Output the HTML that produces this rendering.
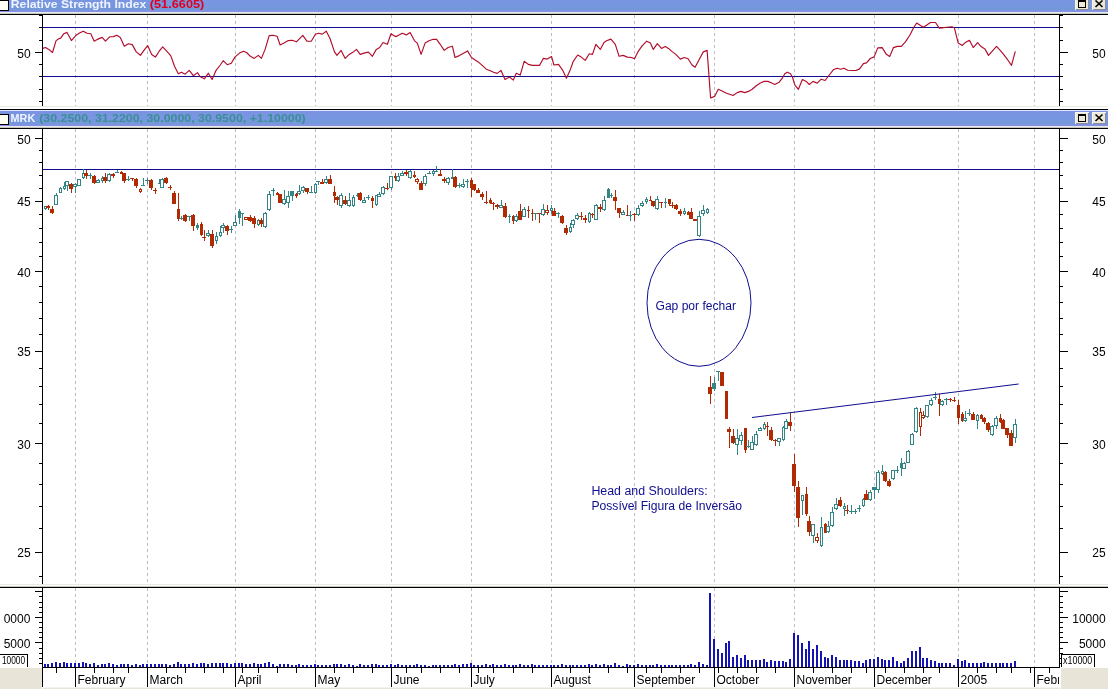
<!DOCTYPE html>
<html><head><meta charset="utf-8"><title>MRK chart</title>
<style>html,body{margin:0;padding:0;background:#fff;overflow:hidden}svg{display:block}</style></head>
<body>
<svg width="1108" height="689" viewBox="0 0 1108 689" font-family="'Liberation Sans', sans-serif">
<defs><filter id="idf" x="-5%" y="-20%" width="110%" height="140%" color-interpolation-filters="sRGB"><feOffset dx="0" dy="0"/></filter><linearGradient id="hg" x1="0" y1="0" x2="0" y2="1"><stop offset="0" stop-color="#7b93e1"/><stop offset="0.45" stop-color="#7896e2"/><stop offset="0.8" stop-color="#7299da"/><stop offset="1" stop-color="#8a90e2"/></linearGradient></defs>
<rect x="0" y="0" width="1108" height="689" fill="#ffffff" />
<g shape-rendering="crispEdges">
<rect x="0" y="-8" width="1108" height="1" fill="#ece8e4" />
<rect x="0" y="-7" width="1108" height="2" fill="#ffffff" />
<rect x="0" y="-5" width="1108" height="1" fill="#000008" />
<rect x="0" y="-4" width="1108" height="1" fill="#dde6fb" />
<rect x="0" y="-3" width="1108" height="15" fill="url(#hg)" />
<rect x="0" y="12" width="1108" height="1" fill="#e6e9f3" />
<rect x="0" y="13" width="1108" height="1" fill="#c9c9ba" />
<rect x="0" y="14" width="1108" height="1" fill="#000" />
<rect x="0" y="0" width="9" height="11" fill="#000" />
<rect x="0" y="1" width="8" height="9" fill="#fffef4" />
<rect x="1075" y="-2" width="14" height="12" fill="#f8f6ec" />
<rect x="1076" y="-1" width="13" height="11" fill="#8c8a9c" />
<rect x="1076" y="-1" width="12" height="10" fill="#ece9d8" />
<rect x="1092" y="-2" width="14" height="12" fill="#f8f6ec" />
<rect x="1093" y="-1" width="13" height="11" fill="#8c8a9c" />
<rect x="1093" y="-1" width="12" height="10" fill="#ece9d8" />
<rect x="1078" y="0" width="8" height="8" fill="#000" />
<rect x="1079" y="2" width="6" height="5" fill="#ece9d8" />
<rect x="0" y="106" width="1108" height="1" fill="#ece8e4" />
<rect x="0" y="107" width="1108" height="2" fill="#ffffff" />
<rect x="0" y="109" width="1108" height="1" fill="#000008" />
<rect x="0" y="110" width="1108" height="1" fill="#dde6fb" />
<rect x="0" y="111" width="1108" height="15" fill="url(#hg)" />
<rect x="0" y="126" width="1108" height="1" fill="#e6e9f3" />
<rect x="0" y="127" width="1108" height="1" fill="#c9c9ba" />
<rect x="0" y="128" width="1108" height="1" fill="#000" />
<rect x="0" y="114" width="9" height="11" fill="#000" />
<rect x="0" y="115" width="8" height="9" fill="#fffef4" />
<rect x="1075" y="112" width="14" height="12" fill="#f8f6ec" />
<rect x="1076" y="113" width="13" height="11" fill="#8c8a9c" />
<rect x="1076" y="113" width="12" height="10" fill="#ece9d8" />
<rect x="1092" y="112" width="14" height="12" fill="#f8f6ec" />
<rect x="1093" y="113" width="13" height="11" fill="#8c8a9c" />
<rect x="1093" y="113" width="12" height="10" fill="#ece9d8" />
<rect x="1078" y="114" width="8" height="8" fill="#000" />
<rect x="1079" y="116" width="6" height="5" fill="#ece9d8" />
<rect x="0" y="584" width="1108" height="1" fill="#e9e9e5" />
<rect x="0" y="585" width="1108" height="1" fill="#fdfdfb" />
<rect x="0" y="586" width="1108" height="1" fill="#c8c8be" />
<rect x="0" y="587" width="1108" height="1" fill="#000" />
<rect x="0" y="668" width="42" height="21" fill="#e8e4d8" />
<rect x="1061" y="668" width="47" height="21" fill="#e8e4d8" />
<rect x="43" y="687" width="1017" height="1" fill="#f4f3ee" />
<rect x="43" y="688" width="1017" height="1" fill="#e6e5dc" />
<line x1="75.5" y1="15" x2="75.5" y2="106" stroke="#bcbcc6" stroke-width="1" stroke-dasharray="3 3"/>
<line x1="75.5" y1="129" x2="75.5" y2="584" stroke="#bcbcc6" stroke-width="1" stroke-dasharray="3 3"/>
<line x1="75.5" y1="588" x2="75.5" y2="667" stroke="#bcbcc6" stroke-width="1" stroke-dasharray="3 3"/>
<line x1="147.5" y1="15" x2="147.5" y2="106" stroke="#bcbcc6" stroke-width="1" stroke-dasharray="3 3"/>
<line x1="147.5" y1="129" x2="147.5" y2="584" stroke="#bcbcc6" stroke-width="1" stroke-dasharray="3 3"/>
<line x1="147.5" y1="588" x2="147.5" y2="667" stroke="#bcbcc6" stroke-width="1" stroke-dasharray="3 3"/>
<line x1="235.5" y1="15" x2="235.5" y2="106" stroke="#bcbcc6" stroke-width="1" stroke-dasharray="3 3"/>
<line x1="235.5" y1="129" x2="235.5" y2="584" stroke="#bcbcc6" stroke-width="1" stroke-dasharray="3 3"/>
<line x1="235.5" y1="588" x2="235.5" y2="667" stroke="#bcbcc6" stroke-width="1" stroke-dasharray="3 3"/>
<line x1="315.5" y1="15" x2="315.5" y2="106" stroke="#bcbcc6" stroke-width="1" stroke-dasharray="3 3"/>
<line x1="315.5" y1="129" x2="315.5" y2="584" stroke="#bcbcc6" stroke-width="1" stroke-dasharray="3 3"/>
<line x1="315.5" y1="588" x2="315.5" y2="667" stroke="#bcbcc6" stroke-width="1" stroke-dasharray="3 3"/>
<line x1="391.5" y1="15" x2="391.5" y2="106" stroke="#bcbcc6" stroke-width="1" stroke-dasharray="3 3"/>
<line x1="391.5" y1="129" x2="391.5" y2="584" stroke="#bcbcc6" stroke-width="1" stroke-dasharray="3 3"/>
<line x1="391.5" y1="588" x2="391.5" y2="667" stroke="#bcbcc6" stroke-width="1" stroke-dasharray="3 3"/>
<line x1="471.5" y1="15" x2="471.5" y2="106" stroke="#bcbcc6" stroke-width="1" stroke-dasharray="3 3"/>
<line x1="471.5" y1="129" x2="471.5" y2="584" stroke="#bcbcc6" stroke-width="1" stroke-dasharray="3 3"/>
<line x1="471.5" y1="588" x2="471.5" y2="667" stroke="#bcbcc6" stroke-width="1" stroke-dasharray="3 3"/>
<line x1="551.5" y1="15" x2="551.5" y2="106" stroke="#bcbcc6" stroke-width="1" stroke-dasharray="3 3"/>
<line x1="551.5" y1="129" x2="551.5" y2="584" stroke="#bcbcc6" stroke-width="1" stroke-dasharray="3 3"/>
<line x1="551.5" y1="588" x2="551.5" y2="667" stroke="#bcbcc6" stroke-width="1" stroke-dasharray="3 3"/>
<line x1="634.5" y1="15" x2="634.5" y2="106" stroke="#bcbcc6" stroke-width="1" stroke-dasharray="3 3"/>
<line x1="634.5" y1="129" x2="634.5" y2="584" stroke="#bcbcc6" stroke-width="1" stroke-dasharray="3 3"/>
<line x1="634.5" y1="588" x2="634.5" y2="667" stroke="#bcbcc6" stroke-width="1" stroke-dasharray="3 3"/>
<line x1="714.5" y1="15" x2="714.5" y2="106" stroke="#bcbcc6" stroke-width="1" stroke-dasharray="3 3"/>
<line x1="714.5" y1="129" x2="714.5" y2="584" stroke="#bcbcc6" stroke-width="1" stroke-dasharray="3 3"/>
<line x1="714.5" y1="588" x2="714.5" y2="667" stroke="#bcbcc6" stroke-width="1" stroke-dasharray="3 3"/>
<line x1="794.5" y1="15" x2="794.5" y2="106" stroke="#bcbcc6" stroke-width="1" stroke-dasharray="3 3"/>
<line x1="794.5" y1="129" x2="794.5" y2="584" stroke="#bcbcc6" stroke-width="1" stroke-dasharray="3 3"/>
<line x1="794.5" y1="588" x2="794.5" y2="667" stroke="#bcbcc6" stroke-width="1" stroke-dasharray="3 3"/>
<line x1="874.5" y1="15" x2="874.5" y2="106" stroke="#bcbcc6" stroke-width="1" stroke-dasharray="3 3"/>
<line x1="874.5" y1="129" x2="874.5" y2="584" stroke="#bcbcc6" stroke-width="1" stroke-dasharray="3 3"/>
<line x1="874.5" y1="588" x2="874.5" y2="667" stroke="#bcbcc6" stroke-width="1" stroke-dasharray="3 3"/>
<line x1="958.5" y1="15" x2="958.5" y2="106" stroke="#bcbcc6" stroke-width="1" stroke-dasharray="3 3"/>
<line x1="958.5" y1="129" x2="958.5" y2="584" stroke="#bcbcc6" stroke-width="1" stroke-dasharray="3 3"/>
<line x1="958.5" y1="588" x2="958.5" y2="667" stroke="#bcbcc6" stroke-width="1" stroke-dasharray="3 3"/>
<line x1="1034.5" y1="15" x2="1034.5" y2="106" stroke="#bcbcc6" stroke-width="1" stroke-dasharray="3 3"/>
<line x1="1034.5" y1="129" x2="1034.5" y2="584" stroke="#bcbcc6" stroke-width="1" stroke-dasharray="3 3"/>
<line x1="1034.5" y1="588" x2="1034.5" y2="667" stroke="#bcbcc6" stroke-width="1" stroke-dasharray="3 3"/>
<rect x="42" y="15" width="1" height="91" fill="#000" />
<rect x="1059" y="15" width="1" height="91" fill="#000" />
<rect x="42" y="129" width="1" height="455" fill="#000" />
<rect x="1059" y="129" width="1" height="455" fill="#000" />
<rect x="42" y="588" width="1" height="80" fill="#000" />
<rect x="1059" y="588" width="1" height="80" fill="#000" />
<rect x="39" y="27" width="3" height="1" fill="#000" />
<rect x="1060" y="27" width="3" height="1" fill="#000" />
<rect x="39" y="40" width="3" height="1" fill="#000" />
<rect x="1060" y="40" width="3" height="1" fill="#000" />
<rect x="35" y="52" width="7" height="1" fill="#000" />
<rect x="1060" y="52" width="8" height="1" fill="#000" />
<rect x="39" y="64" width="3" height="1" fill="#000" />
<rect x="1060" y="64" width="3" height="1" fill="#000" />
<rect x="39" y="76" width="3" height="1" fill="#000" />
<rect x="1060" y="76" width="3" height="1" fill="#000" />
<rect x="39" y="89" width="3" height="1" fill="#000" />
<rect x="1060" y="89" width="3" height="1" fill="#000" />
<rect x="39" y="101" width="3" height="1" fill="#000" />
<rect x="1060" y="101" width="3" height="1" fill="#000" />
<rect x="39" y="15" width="3" height="1" fill="#000" />
<rect x="1060" y="15" width="3" height="1" fill="#000" />
<rect x="43" y="27" width="1016" height="1" fill="#0e0e8e" />
<rect x="43" y="76" width="1016" height="1" fill="#0e0e8e" />
<rect x="39" y="576" width="3" height="1" fill="#000" />
<rect x="1060" y="576" width="3" height="1" fill="#000" />
<rect x="35" y="552" width="7" height="1" fill="#000" />
<rect x="1060" y="552" width="8" height="1" fill="#000" />
<rect x="39" y="528" width="3" height="1" fill="#000" />
<rect x="1060" y="528" width="3" height="1" fill="#000" />
<rect x="39" y="506" width="3" height="1" fill="#000" />
<rect x="1060" y="506" width="3" height="1" fill="#000" />
<rect x="39" y="484" width="3" height="1" fill="#000" />
<rect x="1060" y="484" width="3" height="1" fill="#000" />
<rect x="39" y="463" width="3" height="1" fill="#000" />
<rect x="1060" y="463" width="3" height="1" fill="#000" />
<rect x="35" y="443" width="7" height="1" fill="#000" />
<rect x="1060" y="443" width="8" height="1" fill="#000" />
<rect x="39" y="423" width="3" height="1" fill="#000" />
<rect x="1060" y="423" width="3" height="1" fill="#000" />
<rect x="39" y="404" width="3" height="1" fill="#000" />
<rect x="1060" y="404" width="3" height="1" fill="#000" />
<rect x="39" y="386" width="3" height="1" fill="#000" />
<rect x="1060" y="386" width="3" height="1" fill="#000" />
<rect x="39" y="368" width="3" height="1" fill="#000" />
<rect x="1060" y="368" width="3" height="1" fill="#000" />
<rect x="35" y="351" width="7" height="1" fill="#000" />
<rect x="1060" y="351" width="8" height="1" fill="#000" />
<rect x="39" y="334" width="3" height="1" fill="#000" />
<rect x="1060" y="334" width="3" height="1" fill="#000" />
<rect x="39" y="318" width="3" height="1" fill="#000" />
<rect x="1060" y="318" width="3" height="1" fill="#000" />
<rect x="39" y="302" width="3" height="1" fill="#000" />
<rect x="1060" y="302" width="3" height="1" fill="#000" />
<rect x="39" y="286" width="3" height="1" fill="#000" />
<rect x="1060" y="286" width="3" height="1" fill="#000" />
<rect x="35" y="271" width="7" height="1" fill="#000" />
<rect x="1060" y="271" width="8" height="1" fill="#000" />
<rect x="39" y="256" width="3" height="1" fill="#000" />
<rect x="1060" y="256" width="3" height="1" fill="#000" />
<rect x="39" y="242" width="3" height="1" fill="#000" />
<rect x="1060" y="242" width="3" height="1" fill="#000" />
<rect x="39" y="228" width="3" height="1" fill="#000" />
<rect x="1060" y="228" width="3" height="1" fill="#000" />
<rect x="39" y="214" width="3" height="1" fill="#000" />
<rect x="1060" y="214" width="3" height="1" fill="#000" />
<rect x="35" y="201" width="7" height="1" fill="#000" />
<rect x="1060" y="201" width="8" height="1" fill="#000" />
<rect x="39" y="188" width="3" height="1" fill="#000" />
<rect x="1060" y="188" width="3" height="1" fill="#000" />
<rect x="39" y="175" width="3" height="1" fill="#000" />
<rect x="1060" y="175" width="3" height="1" fill="#000" />
<rect x="39" y="162" width="3" height="1" fill="#000" />
<rect x="1060" y="162" width="3" height="1" fill="#000" />
<rect x="39" y="150" width="3" height="1" fill="#000" />
<rect x="1060" y="150" width="3" height="1" fill="#000" />
<rect x="35" y="138" width="7" height="1" fill="#000" />
<rect x="1060" y="138" width="8" height="1" fill="#000" />
<rect x="43" y="169" width="1016" height="1" fill="#0e0e8e" />
<rect x="39" y="663" width="3" height="1" fill="#000" />
<rect x="1060" y="663" width="3" height="1" fill="#000" />
<rect x="39" y="658" width="3" height="1" fill="#000" />
<rect x="1060" y="658" width="3" height="1" fill="#000" />
<rect x="39" y="653" width="3" height="1" fill="#000" />
<rect x="1060" y="653" width="3" height="1" fill="#000" />
<rect x="39" y="648" width="3" height="1" fill="#000" />
<rect x="1060" y="648" width="3" height="1" fill="#000" />
<rect x="35" y="642" width="7" height="1" fill="#000" />
<rect x="1060" y="642" width="8" height="1" fill="#000" />
<rect x="39" y="637" width="3" height="1" fill="#000" />
<rect x="1060" y="637" width="3" height="1" fill="#000" />
<rect x="39" y="632" width="3" height="1" fill="#000" />
<rect x="1060" y="632" width="3" height="1" fill="#000" />
<rect x="39" y="627" width="3" height="1" fill="#000" />
<rect x="1060" y="627" width="3" height="1" fill="#000" />
<rect x="39" y="622" width="3" height="1" fill="#000" />
<rect x="1060" y="622" width="3" height="1" fill="#000" />
<rect x="35" y="617" width="7" height="1" fill="#000" />
<rect x="1060" y="617" width="8" height="1" fill="#000" />
<rect x="39" y="612" width="3" height="1" fill="#000" />
<rect x="1060" y="612" width="3" height="1" fill="#000" />
<rect x="39" y="607" width="3" height="1" fill="#000" />
<rect x="1060" y="607" width="3" height="1" fill="#000" />
<rect x="39" y="602" width="3" height="1" fill="#000" />
<rect x="1060" y="602" width="3" height="1" fill="#000" />
<rect x="39" y="596" width="3" height="1" fill="#000" />
<rect x="1060" y="596" width="3" height="1" fill="#000" />
<rect x="35" y="591" width="7" height="1" fill="#000" />
<rect x="1060" y="591" width="8" height="1" fill="#000" />
<rect x="44" y="664" width="2" height="3" fill="#1414b4" />
<rect x="47" y="664" width="2" height="3" fill="#1414b4" />
<rect x="51" y="663" width="2" height="4" fill="#1414b4" />
<rect x="55" y="662" width="2" height="5" fill="#1414b4" />
<rect x="59" y="663" width="2" height="4" fill="#1414b4" />
<rect x="63" y="662" width="2" height="5" fill="#1414b4" />
<rect x="66" y="663" width="2" height="4" fill="#1414b4" />
<rect x="70" y="663" width="2" height="4" fill="#1414b4" />
<rect x="74" y="663" width="2" height="4" fill="#1414b4" />
<rect x="78" y="663" width="2" height="4" fill="#1414b4" />
<rect x="82" y="662" width="2" height="5" fill="#1414b4" />
<rect x="85" y="663" width="2" height="4" fill="#1414b4" />
<rect x="89" y="664" width="2" height="3" fill="#1414b4" />
<rect x="93" y="663" width="2" height="4" fill="#1414b4" />
<rect x="97" y="665" width="2" height="2" fill="#1414b4" />
<rect x="101" y="664" width="2" height="3" fill="#1414b4" />
<rect x="104" y="664" width="2" height="3" fill="#1414b4" />
<rect x="108" y="663" width="2" height="4" fill="#1414b4" />
<rect x="112" y="664" width="2" height="3" fill="#1414b4" />
<rect x="116" y="665" width="2" height="2" fill="#1414b4" />
<rect x="120" y="664" width="2" height="3" fill="#1414b4" />
<rect x="123" y="664" width="2" height="3" fill="#1414b4" />
<rect x="127" y="664" width="2" height="3" fill="#1414b4" />
<rect x="131" y="665" width="2" height="2" fill="#1414b4" />
<rect x="135" y="664" width="2" height="3" fill="#1414b4" />
<rect x="139" y="665" width="2" height="2" fill="#1414b4" />
<rect x="142" y="664" width="2" height="3" fill="#1414b4" />
<rect x="146" y="664" width="2" height="3" fill="#1414b4" />
<rect x="150" y="664" width="2" height="3" fill="#1414b4" />
<rect x="154" y="664" width="2" height="3" fill="#1414b4" />
<rect x="158" y="664" width="2" height="3" fill="#1414b4" />
<rect x="161" y="664" width="2" height="3" fill="#1414b4" />
<rect x="165" y="664" width="2" height="3" fill="#1414b4" />
<rect x="169" y="665" width="2" height="2" fill="#1414b4" />
<rect x="173" y="664" width="2" height="3" fill="#1414b4" />
<rect x="177" y="662" width="2" height="5" fill="#1414b4" />
<rect x="180" y="664" width="2" height="3" fill="#1414b4" />
<rect x="184" y="664" width="2" height="3" fill="#1414b4" />
<rect x="188" y="664" width="2" height="3" fill="#1414b4" />
<rect x="192" y="663" width="2" height="4" fill="#1414b4" />
<rect x="196" y="664" width="2" height="3" fill="#1414b4" />
<rect x="200" y="663" width="2" height="4" fill="#1414b4" />
<rect x="203" y="663" width="2" height="4" fill="#1414b4" />
<rect x="207" y="664" width="2" height="3" fill="#1414b4" />
<rect x="211" y="663" width="2" height="4" fill="#1414b4" />
<rect x="215" y="663" width="2" height="4" fill="#1414b4" />
<rect x="219" y="663" width="2" height="4" fill="#1414b4" />
<rect x="222" y="663" width="2" height="4" fill="#1414b4" />
<rect x="226" y="663" width="2" height="4" fill="#1414b4" />
<rect x="230" y="664" width="2" height="3" fill="#1414b4" />
<rect x="234" y="663" width="2" height="4" fill="#1414b4" />
<rect x="238" y="663" width="2" height="4" fill="#1414b4" />
<rect x="241" y="663" width="2" height="4" fill="#1414b4" />
<rect x="245" y="664" width="2" height="3" fill="#1414b4" />
<rect x="249" y="664" width="2" height="3" fill="#1414b4" />
<rect x="253" y="663" width="2" height="4" fill="#1414b4" />
<rect x="257" y="664" width="2" height="3" fill="#1414b4" />
<rect x="260" y="664" width="2" height="3" fill="#1414b4" />
<rect x="264" y="663" width="2" height="4" fill="#1414b4" />
<rect x="268" y="662" width="2" height="5" fill="#1414b4" />
<rect x="272" y="664" width="2" height="3" fill="#1414b4" />
<rect x="276" y="666" width="2" height="1" fill="#1414b4" />
<rect x="279" y="664" width="2" height="3" fill="#1414b4" />
<rect x="283" y="664" width="2" height="3" fill="#1414b4" />
<rect x="287" y="664" width="2" height="3" fill="#1414b4" />
<rect x="291" y="665" width="2" height="2" fill="#1414b4" />
<rect x="295" y="665" width="2" height="2" fill="#1414b4" />
<rect x="298" y="664" width="2" height="3" fill="#1414b4" />
<rect x="302" y="665" width="2" height="2" fill="#1414b4" />
<rect x="306" y="665" width="2" height="2" fill="#1414b4" />
<rect x="310" y="665" width="2" height="2" fill="#1414b4" />
<rect x="314" y="664" width="2" height="3" fill="#1414b4" />
<rect x="317" y="665" width="2" height="2" fill="#1414b4" />
<rect x="321" y="665" width="2" height="2" fill="#1414b4" />
<rect x="325" y="665" width="2" height="2" fill="#1414b4" />
<rect x="329" y="665" width="2" height="2" fill="#1414b4" />
<rect x="333" y="664" width="2" height="3" fill="#1414b4" />
<rect x="336" y="664" width="2" height="3" fill="#1414b4" />
<rect x="340" y="664" width="2" height="3" fill="#1414b4" />
<rect x="344" y="665" width="2" height="2" fill="#1414b4" />
<rect x="348" y="664" width="2" height="3" fill="#1414b4" />
<rect x="352" y="665" width="2" height="2" fill="#1414b4" />
<rect x="356" y="666" width="2" height="1" fill="#1414b4" />
<rect x="359" y="664" width="2" height="3" fill="#1414b4" />
<rect x="363" y="665" width="2" height="2" fill="#1414b4" />
<rect x="367" y="665" width="2" height="2" fill="#1414b4" />
<rect x="371" y="664" width="2" height="3" fill="#1414b4" />
<rect x="375" y="664" width="2" height="3" fill="#1414b4" />
<rect x="378" y="665" width="2" height="2" fill="#1414b4" />
<rect x="382" y="665" width="2" height="2" fill="#1414b4" />
<rect x="386" y="665" width="2" height="2" fill="#1414b4" />
<rect x="390" y="664" width="2" height="3" fill="#1414b4" />
<rect x="394" y="665" width="2" height="2" fill="#1414b4" />
<rect x="397" y="664" width="2" height="3" fill="#1414b4" />
<rect x="401" y="665" width="2" height="2" fill="#1414b4" />
<rect x="405" y="665" width="2" height="2" fill="#1414b4" />
<rect x="409" y="665" width="2" height="2" fill="#1414b4" />
<rect x="413" y="665" width="2" height="2" fill="#1414b4" />
<rect x="416" y="664" width="2" height="3" fill="#1414b4" />
<rect x="420" y="665" width="2" height="2" fill="#1414b4" />
<rect x="424" y="665" width="2" height="2" fill="#1414b4" />
<rect x="428" y="666" width="2" height="1" fill="#1414b4" />
<rect x="432" y="665" width="2" height="2" fill="#1414b4" />
<rect x="435" y="665" width="2" height="2" fill="#1414b4" />
<rect x="439" y="665" width="2" height="2" fill="#1414b4" />
<rect x="443" y="665" width="2" height="2" fill="#1414b4" />
<rect x="447" y="665" width="2" height="2" fill="#1414b4" />
<rect x="451" y="665" width="2" height="2" fill="#1414b4" />
<rect x="454" y="664" width="2" height="3" fill="#1414b4" />
<rect x="458" y="665" width="2" height="2" fill="#1414b4" />
<rect x="462" y="664" width="2" height="3" fill="#1414b4" />
<rect x="466" y="664" width="2" height="3" fill="#1414b4" />
<rect x="470" y="663" width="2" height="4" fill="#1414b4" />
<rect x="473" y="665" width="2" height="2" fill="#1414b4" />
<rect x="477" y="665" width="2" height="2" fill="#1414b4" />
<rect x="481" y="665" width="2" height="2" fill="#1414b4" />
<rect x="485" y="664" width="2" height="3" fill="#1414b4" />
<rect x="489" y="665" width="2" height="2" fill="#1414b4" />
<rect x="492" y="664" width="2" height="3" fill="#1414b4" />
<rect x="496" y="665" width="2" height="2" fill="#1414b4" />
<rect x="500" y="665" width="2" height="2" fill="#1414b4" />
<rect x="504" y="664" width="2" height="3" fill="#1414b4" />
<rect x="508" y="665" width="2" height="2" fill="#1414b4" />
<rect x="512" y="665" width="2" height="2" fill="#1414b4" />
<rect x="515" y="665" width="2" height="2" fill="#1414b4" />
<rect x="519" y="664" width="2" height="3" fill="#1414b4" />
<rect x="523" y="665" width="2" height="2" fill="#1414b4" />
<rect x="527" y="665" width="2" height="2" fill="#1414b4" />
<rect x="531" y="664" width="2" height="3" fill="#1414b4" />
<rect x="534" y="665" width="2" height="2" fill="#1414b4" />
<rect x="538" y="665" width="2" height="2" fill="#1414b4" />
<rect x="542" y="665" width="2" height="2" fill="#1414b4" />
<rect x="546" y="665" width="2" height="2" fill="#1414b4" />
<rect x="550" y="665" width="2" height="2" fill="#1414b4" />
<rect x="553" y="665" width="2" height="2" fill="#1414b4" />
<rect x="557" y="665" width="2" height="2" fill="#1414b4" />
<rect x="561" y="664" width="2" height="3" fill="#1414b4" />
<rect x="565" y="665" width="2" height="2" fill="#1414b4" />
<rect x="569" y="665" width="2" height="2" fill="#1414b4" />
<rect x="572" y="665" width="2" height="2" fill="#1414b4" />
<rect x="576" y="665" width="2" height="2" fill="#1414b4" />
<rect x="580" y="665" width="2" height="2" fill="#1414b4" />
<rect x="584" y="665" width="2" height="2" fill="#1414b4" />
<rect x="588" y="664" width="2" height="3" fill="#1414b4" />
<rect x="591" y="665" width="2" height="2" fill="#1414b4" />
<rect x="595" y="664" width="2" height="3" fill="#1414b4" />
<rect x="599" y="665" width="2" height="2" fill="#1414b4" />
<rect x="603" y="664" width="2" height="3" fill="#1414b4" />
<rect x="607" y="665" width="2" height="2" fill="#1414b4" />
<rect x="610" y="665" width="2" height="2" fill="#1414b4" />
<rect x="614" y="663" width="2" height="4" fill="#1414b4" />
<rect x="618" y="665" width="2" height="2" fill="#1414b4" />
<rect x="622" y="666" width="2" height="1" fill="#1414b4" />
<rect x="626" y="664" width="2" height="3" fill="#1414b4" />
<rect x="629" y="665" width="2" height="2" fill="#1414b4" />
<rect x="633" y="665" width="2" height="2" fill="#1414b4" />
<rect x="637" y="664" width="2" height="3" fill="#1414b4" />
<rect x="641" y="665" width="2" height="2" fill="#1414b4" />
<rect x="645" y="665" width="2" height="2" fill="#1414b4" />
<rect x="649" y="665" width="2" height="2" fill="#1414b4" />
<rect x="652" y="665" width="2" height="2" fill="#1414b4" />
<rect x="656" y="664" width="2" height="3" fill="#1414b4" />
<rect x="660" y="665" width="2" height="2" fill="#1414b4" />
<rect x="664" y="665" width="2" height="2" fill="#1414b4" />
<rect x="668" y="665" width="2" height="2" fill="#1414b4" />
<rect x="671" y="665" width="2" height="2" fill="#1414b4" />
<rect x="675" y="665" width="2" height="2" fill="#1414b4" />
<rect x="679" y="665" width="2" height="2" fill="#1414b4" />
<rect x="683" y="665" width="2" height="2" fill="#1414b4" />
<rect x="687" y="665" width="2" height="2" fill="#1414b4" />
<rect x="690" y="664" width="2" height="3" fill="#1414b4" />
<rect x="694" y="665" width="2" height="2" fill="#1414b4" />
<rect x="698" y="662" width="2" height="5" fill="#1414b4" />
<rect x="702" y="664" width="2" height="3" fill="#1414b4" />
<rect x="706" y="665" width="2" height="2" fill="#1414b4" />
<rect x="709" y="593" width="2" height="74" fill="#1414b4" />
<rect x="713" y="639" width="2" height="28" fill="#1414b4" />
<rect x="717" y="649" width="2" height="18" fill="#1414b4" />
<rect x="721" y="653" width="2" height="14" fill="#1414b4" />
<rect x="725" y="643" width="2" height="24" fill="#1414b4" />
<rect x="728" y="641" width="2" height="26" fill="#1414b4" />
<rect x="732" y="657" width="2" height="10" fill="#1414b4" />
<rect x="736" y="655" width="2" height="12" fill="#1414b4" />
<rect x="740" y="658" width="2" height="9" fill="#1414b4" />
<rect x="744" y="655" width="2" height="12" fill="#1414b4" />
<rect x="747" y="660" width="2" height="7" fill="#1414b4" />
<rect x="751" y="660" width="2" height="7" fill="#1414b4" />
<rect x="755" y="660" width="2" height="7" fill="#1414b4" />
<rect x="759" y="660" width="2" height="7" fill="#1414b4" />
<rect x="763" y="659" width="2" height="8" fill="#1414b4" />
<rect x="766" y="662" width="2" height="5" fill="#1414b4" />
<rect x="770" y="660" width="2" height="7" fill="#1414b4" />
<rect x="774" y="661" width="2" height="6" fill="#1414b4" />
<rect x="778" y="661" width="2" height="6" fill="#1414b4" />
<rect x="782" y="661" width="2" height="6" fill="#1414b4" />
<rect x="785" y="662" width="2" height="5" fill="#1414b4" />
<rect x="789" y="659" width="2" height="8" fill="#1414b4" />
<rect x="793" y="633" width="2" height="34" fill="#1414b4" />
<rect x="797" y="635" width="2" height="32" fill="#1414b4" />
<rect x="801" y="643" width="2" height="24" fill="#1414b4" />
<rect x="805" y="649" width="2" height="18" fill="#1414b4" />
<rect x="808" y="641" width="2" height="26" fill="#1414b4" />
<rect x="812" y="649" width="2" height="18" fill="#1414b4" />
<rect x="816" y="645" width="2" height="22" fill="#1414b4" />
<rect x="820" y="651" width="2" height="16" fill="#1414b4" />
<rect x="824" y="657" width="2" height="10" fill="#1414b4" />
<rect x="827" y="658" width="2" height="9" fill="#1414b4" />
<rect x="831" y="655" width="2" height="12" fill="#1414b4" />
<rect x="835" y="657" width="2" height="10" fill="#1414b4" />
<rect x="839" y="660" width="2" height="7" fill="#1414b4" />
<rect x="843" y="660" width="2" height="7" fill="#1414b4" />
<rect x="846" y="660" width="2" height="7" fill="#1414b4" />
<rect x="850" y="660" width="2" height="7" fill="#1414b4" />
<rect x="854" y="661" width="2" height="6" fill="#1414b4" />
<rect x="858" y="661" width="2" height="6" fill="#1414b4" />
<rect x="862" y="663" width="2" height="4" fill="#1414b4" />
<rect x="865" y="660" width="2" height="7" fill="#1414b4" />
<rect x="869" y="659" width="2" height="8" fill="#1414b4" />
<rect x="873" y="659" width="2" height="8" fill="#1414b4" />
<rect x="877" y="657" width="2" height="10" fill="#1414b4" />
<rect x="881" y="659" width="2" height="8" fill="#1414b4" />
<rect x="884" y="660" width="2" height="7" fill="#1414b4" />
<rect x="888" y="660" width="2" height="7" fill="#1414b4" />
<rect x="892" y="657" width="2" height="10" fill="#1414b4" />
<rect x="896" y="661" width="2" height="6" fill="#1414b4" />
<rect x="900" y="663" width="2" height="4" fill="#1414b4" />
<rect x="903" y="661" width="2" height="6" fill="#1414b4" />
<rect x="907" y="658" width="2" height="9" fill="#1414b4" />
<rect x="911" y="651" width="2" height="16" fill="#1414b4" />
<rect x="915" y="651" width="2" height="16" fill="#1414b4" />
<rect x="919" y="647" width="2" height="20" fill="#1414b4" />
<rect x="922" y="658" width="2" height="9" fill="#1414b4" />
<rect x="926" y="658" width="2" height="9" fill="#1414b4" />
<rect x="930" y="660" width="2" height="7" fill="#1414b4" />
<rect x="934" y="661" width="2" height="6" fill="#1414b4" />
<rect x="938" y="663" width="2" height="4" fill="#1414b4" />
<rect x="941" y="663" width="2" height="4" fill="#1414b4" />
<rect x="945" y="663" width="2" height="4" fill="#1414b4" />
<rect x="949" y="663" width="2" height="4" fill="#1414b4" />
<rect x="953" y="665" width="2" height="2" fill="#1414b4" />
<rect x="957" y="659" width="2" height="8" fill="#1414b4" />
<rect x="961" y="661" width="2" height="6" fill="#1414b4" />
<rect x="964" y="660" width="2" height="7" fill="#1414b4" />
<rect x="968" y="663" width="2" height="4" fill="#1414b4" />
<rect x="972" y="663" width="2" height="4" fill="#1414b4" />
<rect x="976" y="663" width="2" height="4" fill="#1414b4" />
<rect x="980" y="663" width="2" height="4" fill="#1414b4" />
<rect x="983" y="662" width="2" height="5" fill="#1414b4" />
<rect x="987" y="663" width="2" height="4" fill="#1414b4" />
<rect x="991" y="663" width="2" height="4" fill="#1414b4" />
<rect x="995" y="663" width="2" height="4" fill="#1414b4" />
<rect x="999" y="663" width="2" height="4" fill="#1414b4" />
<rect x="1002" y="663" width="2" height="4" fill="#1414b4" />
<rect x="1006" y="663" width="2" height="4" fill="#1414b4" />
<rect x="1010" y="663" width="2" height="4" fill="#1414b4" />
<rect x="1014" y="661" width="2" height="6" fill="#1414b4" />
<rect x="42" y="667" width="1018" height="1" fill="#000" />
<rect x="56" y="668" width="1" height="5" fill="#000" />
<rect x="94" y="668" width="1" height="5" fill="#000" />
<rect x="113" y="668" width="1" height="5" fill="#000" />
<rect x="128" y="668" width="1" height="5" fill="#000" />
<rect x="166" y="668" width="1" height="5" fill="#000" />
<rect x="185" y="668" width="1" height="5" fill="#000" />
<rect x="204" y="668" width="1" height="5" fill="#000" />
<rect x="223" y="668" width="1" height="5" fill="#000" />
<rect x="242" y="668" width="1" height="5" fill="#000" />
<rect x="258" y="668" width="1" height="5" fill="#000" />
<rect x="277" y="668" width="1" height="5" fill="#000" />
<rect x="296" y="668" width="1" height="5" fill="#000" />
<rect x="334" y="668" width="1" height="5" fill="#000" />
<rect x="353" y="668" width="1" height="5" fill="#000" />
<rect x="372" y="668" width="1" height="5" fill="#000" />
<rect x="406" y="668" width="1" height="5" fill="#000" />
<rect x="421" y="668" width="1" height="5" fill="#000" />
<rect x="440" y="668" width="1" height="5" fill="#000" />
<rect x="459" y="668" width="1" height="5" fill="#000" />
<rect x="478" y="668" width="1" height="5" fill="#000" />
<rect x="493" y="668" width="1" height="5" fill="#000" />
<rect x="513" y="668" width="1" height="5" fill="#000" />
<rect x="532" y="668" width="1" height="5" fill="#000" />
<rect x="570" y="668" width="1" height="5" fill="#000" />
<rect x="589" y="668" width="1" height="5" fill="#000" />
<rect x="608" y="668" width="1" height="5" fill="#000" />
<rect x="627" y="668" width="1" height="5" fill="#000" />
<rect x="646" y="668" width="1" height="5" fill="#000" />
<rect x="661" y="668" width="1" height="5" fill="#000" />
<rect x="680" y="668" width="1" height="5" fill="#000" />
<rect x="699" y="668" width="1" height="5" fill="#000" />
<rect x="718" y="668" width="1" height="5" fill="#000" />
<rect x="737" y="668" width="1" height="5" fill="#000" />
<rect x="756" y="668" width="1" height="5" fill="#000" />
<rect x="775" y="668" width="1" height="5" fill="#000" />
<rect x="813" y="668" width="1" height="5" fill="#000" />
<rect x="832" y="668" width="1" height="5" fill="#000" />
<rect x="851" y="668" width="1" height="5" fill="#000" />
<rect x="866" y="668" width="1" height="5" fill="#000" />
<rect x="885" y="668" width="1" height="5" fill="#000" />
<rect x="904" y="668" width="1" height="5" fill="#000" />
<rect x="923" y="668" width="1" height="5" fill="#000" />
<rect x="939" y="668" width="1" height="5" fill="#000" />
<rect x="977" y="668" width="1" height="5" fill="#000" />
<rect x="996" y="668" width="1" height="5" fill="#000" />
<rect x="1011" y="668" width="1" height="5" fill="#000" />
<rect x="1030" y="668" width="1" height="5" fill="#000" />
<rect x="1049" y="668" width="1" height="5" fill="#000" />
<rect x="75" y="668" width="1" height="19" fill="#000" />
<rect x="147" y="668" width="1" height="19" fill="#000" />
<rect x="235" y="668" width="1" height="19" fill="#000" />
<rect x="315" y="668" width="1" height="19" fill="#000" />
<rect x="391" y="668" width="1" height="19" fill="#000" />
<rect x="471" y="668" width="1" height="19" fill="#000" />
<rect x="551" y="668" width="1" height="19" fill="#000" />
<rect x="634" y="668" width="1" height="19" fill="#000" />
<rect x="714" y="668" width="1" height="19" fill="#000" />
<rect x="794" y="668" width="1" height="19" fill="#000" />
<rect x="874" y="668" width="1" height="19" fill="#000" />
<rect x="958" y="668" width="1" height="19" fill="#000" />
<rect x="1034" y="668" width="1" height="19" fill="#000" />
<rect x="42" y="668" width="1" height="19" fill="#000" />
<rect x="45" y="206" width="1" height="4" fill="#348686" />
<rect x="44" y="206" width="3" height="3" fill="#348686" />
<rect x="45" y="207" width="1" height="1" fill="#ffffff" />
<rect x="48" y="205" width="1" height="5" fill="#b02a04" />
<rect x="46" y="206" width="4" height="2" fill="#b02a04" />
<rect x="52" y="206" width="1" height="8" fill="#b02a04" />
<rect x="50" y="209" width="4" height="4" fill="#b02a04" />
<rect x="56" y="193" width="1" height="12" fill="#348686" />
<rect x="54" y="195" width="4" height="10" fill="#348686" />
<rect x="55" y="196" width="2" height="8" fill="#ffffff" />
<rect x="60" y="187" width="1" height="6" fill="#348686" />
<rect x="59" y="188" width="3" height="5" fill="#348686" />
<rect x="60" y="189" width="1" height="3" fill="#ffffff" />
<rect x="64" y="182" width="1" height="8" fill="#348686" />
<rect x="63" y="186" width="3" height="3" fill="#348686" />
<rect x="64" y="187" width="1" height="1" fill="#ffffff" />
<rect x="67" y="181" width="1" height="10" fill="#348686" />
<rect x="65" y="181" width="4" height="5" fill="#348686" />
<rect x="66" y="182" width="2" height="3" fill="#ffffff" />
<rect x="71" y="183" width="1" height="10" fill="#b02a04" />
<rect x="69" y="184" width="4" height="5" fill="#b02a04" />
<rect x="75" y="183" width="1" height="10" fill="#348686" />
<rect x="73" y="184" width="4" height="3" fill="#348686" />
<rect x="74" y="185" width="2" height="1" fill="#ffffff" />
<rect x="79" y="179" width="1" height="7" fill="#348686" />
<rect x="77" y="179" width="4" height="7" fill="#348686" />
<rect x="78" y="180" width="2" height="5" fill="#ffffff" />
<rect x="83" y="169" width="1" height="10" fill="#348686" />
<rect x="82" y="173" width="3" height="5" fill="#348686" />
<rect x="83" y="174" width="1" height="3" fill="#ffffff" />
<rect x="86" y="170" width="1" height="9" fill="#b02a04" />
<rect x="84" y="173" width="4" height="3" fill="#b02a04" />
<rect x="90" y="173" width="1" height="6" fill="#348686" />
<rect x="88" y="175" width="4" height="1" fill="#348686" />
<rect x="94" y="175" width="1" height="9" fill="#b02a04" />
<rect x="92" y="176" width="4" height="7" fill="#b02a04" />
<rect x="98" y="179" width="1" height="4" fill="#348686" />
<rect x="96" y="180" width="4" height="3" fill="#348686" />
<rect x="97" y="181" width="2" height="1" fill="#ffffff" />
<rect x="102" y="176" width="1" height="7" fill="#348686" />
<rect x="101" y="178" width="3" height="3" fill="#348686" />
<rect x="102" y="179" width="1" height="1" fill="#ffffff" />
<rect x="105" y="173" width="1" height="10" fill="#b02a04" />
<rect x="103" y="177" width="4" height="4" fill="#b02a04" />
<rect x="109" y="173" width="1" height="9" fill="#348686" />
<rect x="107" y="174" width="4" height="7" fill="#348686" />
<rect x="108" y="175" width="2" height="5" fill="#ffffff" />
<rect x="113" y="173" width="1" height="5" fill="#b02a04" />
<rect x="111" y="174" width="4" height="2" fill="#b02a04" />
<rect x="117" y="170" width="1" height="3" fill="#348686" />
<rect x="115" y="172" width="4" height="1" fill="#348686" />
<rect x="121" y="171" width="1" height="3" fill="#b02a04" />
<rect x="120" y="172" width="3" height="2" fill="#b02a04" />
<rect x="124" y="173" width="1" height="10" fill="#b02a04" />
<rect x="122" y="173" width="4" height="8" fill="#b02a04" />
<rect x="128" y="176" width="1" height="5" fill="#348686" />
<rect x="126" y="179" width="4" height="1" fill="#348686" />
<rect x="132" y="178" width="1" height="3" fill="#b02a04" />
<rect x="130" y="178" width="4" height="1" fill="#b02a04" />
<rect x="136" y="178" width="1" height="10" fill="#b02a04" />
<rect x="134" y="179" width="4" height="7" fill="#b02a04" />
<rect x="140" y="188" width="1" height="5" fill="#b02a04" />
<rect x="139" y="189" width="3" height="3" fill="#b02a04" />
<rect x="140" y="190" width="1" height="1" fill="#ffffff" />
<rect x="143" y="178" width="1" height="8" fill="#348686" />
<rect x="141" y="185" width="4" height="1" fill="#348686" />
<rect x="147" y="178" width="1" height="6" fill="#348686" />
<rect x="145" y="180" width="4" height="1" fill="#348686" />
<rect x="151" y="179" width="1" height="11" fill="#b02a04" />
<rect x="149" y="180" width="4" height="8" fill="#b02a04" />
<rect x="155" y="188" width="1" height="6" fill="#b02a04" />
<rect x="153" y="190" width="4" height="1" fill="#b02a04" />
<rect x="159" y="179" width="1" height="5" fill="#348686" />
<rect x="158" y="183" width="3" height="1" fill="#348686" />
<rect x="162" y="178" width="1" height="10" fill="#348686" />
<rect x="160" y="179" width="4" height="9" fill="#348686" />
<rect x="161" y="180" width="2" height="7" fill="#ffffff" />
<rect x="166" y="177" width="1" height="7" fill="#b02a04" />
<rect x="164" y="178" width="4" height="5" fill="#b02a04" />
<rect x="170" y="185" width="1" height="5" fill="#b02a04" />
<rect x="168" y="187" width="4" height="1" fill="#b02a04" />
<rect x="174" y="191" width="1" height="13" fill="#b02a04" />
<rect x="172" y="193" width="4" height="11" fill="#b02a04" />
<rect x="178" y="193" width="1" height="28" fill="#b02a04" />
<rect x="177" y="209" width="3" height="10" fill="#b02a04" />
<rect x="181" y="216" width="1" height="4" fill="#348686" />
<rect x="179" y="218" width="4" height="1" fill="#348686" />
<rect x="185" y="214" width="1" height="8" fill="#b02a04" />
<rect x="183" y="215" width="4" height="6" fill="#b02a04" />
<rect x="189" y="216" width="1" height="5" fill="#348686" />
<rect x="187" y="216" width="4" height="1" fill="#348686" />
<rect x="193" y="214" width="1" height="17" fill="#b02a04" />
<rect x="191" y="215" width="4" height="11" fill="#b02a04" />
<rect x="197" y="223" width="1" height="7" fill="#348686" />
<rect x="196" y="225" width="3" height="3" fill="#348686" />
<rect x="201" y="222" width="1" height="14" fill="#b02a04" />
<rect x="200" y="224" width="3" height="11" fill="#b02a04" />
<rect x="204" y="230" width="1" height="11" fill="#b02a04" />
<rect x="202" y="237" width="4" height="1" fill="#b02a04" />
<rect x="208" y="230" width="1" height="7" fill="#348686" />
<rect x="206" y="233" width="4" height="3" fill="#348686" />
<rect x="207" y="234" width="2" height="1" fill="#ffffff" />
<rect x="212" y="230" width="1" height="18" fill="#b02a04" />
<rect x="210" y="234" width="4" height="12" fill="#b02a04" />
<rect x="216" y="232" width="1" height="12" fill="#348686" />
<rect x="215" y="236" width="3" height="5" fill="#348686" />
<rect x="216" y="237" width="1" height="3" fill="#ffffff" />
<rect x="220" y="226" width="1" height="11" fill="#348686" />
<rect x="219" y="232" width="3" height="4" fill="#348686" />
<rect x="220" y="233" width="1" height="2" fill="#ffffff" />
<rect x="223" y="223" width="1" height="10" fill="#348686" />
<rect x="221" y="225" width="4" height="3" fill="#348686" />
<rect x="222" y="226" width="2" height="1" fill="#ffffff" />
<rect x="227" y="225" width="1" height="10" fill="#b02a04" />
<rect x="225" y="226" width="4" height="5" fill="#b02a04" />
<rect x="231" y="226" width="1" height="7" fill="#348686" />
<rect x="229" y="229" width="4" height="1" fill="#348686" />
<rect x="235" y="215" width="1" height="11" fill="#348686" />
<rect x="233" y="222" width="4" height="4" fill="#348686" />
<rect x="234" y="223" width="2" height="2" fill="#ffffff" />
<rect x="239" y="209" width="1" height="15" fill="#348686" />
<rect x="238" y="211" width="3" height="7" fill="#348686" />
<rect x="242" y="213" width="1" height="13" fill="#348686" />
<rect x="240" y="213" width="4" height="1" fill="#348686" />
<rect x="246" y="217" width="1" height="3" fill="#b02a04" />
<rect x="244" y="217" width="4" height="3" fill="#b02a04" />
<rect x="245" y="218" width="2" height="1" fill="#ffffff" />
<rect x="250" y="215" width="1" height="7" fill="#b02a04" />
<rect x="248" y="217" width="4" height="4" fill="#b02a04" />
<rect x="254" y="216" width="1" height="12" fill="#b02a04" />
<rect x="252" y="218" width="4" height="6" fill="#b02a04" />
<rect x="258" y="219" width="1" height="7" fill="#348686" />
<rect x="257" y="220" width="3" height="5" fill="#348686" />
<rect x="258" y="221" width="1" height="3" fill="#ffffff" />
<rect x="261" y="218" width="1" height="9" fill="#b02a04" />
<rect x="259" y="220" width="4" height="4" fill="#b02a04" />
<rect x="265" y="212" width="1" height="16" fill="#348686" />
<rect x="263" y="213" width="4" height="14" fill="#348686" />
<rect x="264" y="214" width="2" height="12" fill="#ffffff" />
<rect x="269" y="191" width="1" height="20" fill="#348686" />
<rect x="267" y="194" width="4" height="16" fill="#348686" />
<rect x="268" y="195" width="2" height="14" fill="#ffffff" />
<rect x="273" y="188" width="1" height="8" fill="#348686" />
<rect x="271" y="190" width="4" height="1" fill="#348686" />
<rect x="277" y="192" width="1" height="3" fill="#b02a04" />
<rect x="276" y="193" width="3" height="2" fill="#b02a04" />
<rect x="280" y="194" width="1" height="9" fill="#b02a04" />
<rect x="278" y="194" width="4" height="9" fill="#b02a04" />
<rect x="284" y="190" width="1" height="15" fill="#348686" />
<rect x="282" y="199" width="4" height="5" fill="#348686" />
<rect x="283" y="200" width="2" height="3" fill="#ffffff" />
<rect x="288" y="191" width="1" height="17" fill="#348686" />
<rect x="286" y="196" width="4" height="7" fill="#348686" />
<rect x="287" y="197" width="2" height="5" fill="#ffffff" />
<rect x="292" y="191" width="1" height="10" fill="#348686" />
<rect x="290" y="191" width="4" height="5" fill="#348686" />
<rect x="296" y="193" width="1" height="5" fill="#b02a04" />
<rect x="295" y="194" width="3" height="2" fill="#b02a04" />
<rect x="299" y="185" width="1" height="10" fill="#348686" />
<rect x="297" y="191" width="4" height="3" fill="#348686" />
<rect x="298" y="192" width="2" height="1" fill="#ffffff" />
<rect x="303" y="186" width="1" height="7" fill="#348686" />
<rect x="301" y="187" width="4" height="4" fill="#348686" />
<rect x="302" y="188" width="2" height="2" fill="#ffffff" />
<rect x="307" y="188" width="1" height="6" fill="#b02a04" />
<rect x="305" y="188" width="4" height="4" fill="#b02a04" />
<rect x="311" y="186" width="1" height="7" fill="#348686" />
<rect x="309" y="192" width="4" height="1" fill="#348686" />
<rect x="315" y="183" width="1" height="11" fill="#348686" />
<rect x="314" y="184" width="3" height="9" fill="#348686" />
<rect x="315" y="185" width="1" height="7" fill="#ffffff" />
<rect x="318" y="181" width="1" height="4" fill="#348686" />
<rect x="316" y="181" width="4" height="1" fill="#348686" />
<rect x="322" y="179" width="1" height="5" fill="#b02a04" />
<rect x="320" y="182" width="4" height="2" fill="#b02a04" />
<rect x="326" y="176" width="1" height="8" fill="#348686" />
<rect x="324" y="179" width="4" height="4" fill="#348686" />
<rect x="325" y="180" width="2" height="2" fill="#ffffff" />
<rect x="330" y="175" width="1" height="9" fill="#b02a04" />
<rect x="328" y="179" width="4" height="5" fill="#b02a04" />
<rect x="334" y="186" width="1" height="17" fill="#b02a04" />
<rect x="333" y="192" width="3" height="4" fill="#b02a04" />
<rect x="337" y="196" width="1" height="9" fill="#b02a04" />
<rect x="335" y="197" width="4" height="3" fill="#b02a04" />
<rect x="341" y="193" width="1" height="15" fill="#348686" />
<rect x="339" y="195" width="4" height="11" fill="#348686" />
<rect x="340" y="196" width="2" height="9" fill="#ffffff" />
<rect x="345" y="196" width="1" height="9" fill="#b02a04" />
<rect x="343" y="200" width="4" height="4" fill="#b02a04" />
<rect x="349" y="193" width="1" height="14" fill="#348686" />
<rect x="347" y="200" width="4" height="6" fill="#348686" />
<rect x="348" y="201" width="2" height="4" fill="#ffffff" />
<rect x="353" y="195" width="1" height="12" fill="#348686" />
<rect x="352" y="197" width="3" height="9" fill="#348686" />
<rect x="353" y="198" width="1" height="7" fill="#ffffff" />
<rect x="357" y="193" width="1" height="4" fill="#348686" />
<rect x="356" y="195" width="3" height="1" fill="#348686" />
<rect x="360" y="192" width="1" height="9" fill="#b02a04" />
<rect x="358" y="193" width="4" height="7" fill="#b02a04" />
<rect x="364" y="197" width="1" height="6" fill="#348686" />
<rect x="362" y="200" width="4" height="3" fill="#348686" />
<rect x="363" y="201" width="2" height="1" fill="#ffffff" />
<rect x="368" y="195" width="1" height="5" fill="#348686" />
<rect x="366" y="197" width="4" height="1" fill="#348686" />
<rect x="372" y="196" width="1" height="12" fill="#b02a04" />
<rect x="371" y="198" width="3" height="3" fill="#b02a04" />
<rect x="376" y="195" width="1" height="11" fill="#348686" />
<rect x="375" y="195" width="3" height="10" fill="#348686" />
<rect x="376" y="196" width="1" height="8" fill="#ffffff" />
<rect x="379" y="192" width="1" height="5" fill="#348686" />
<rect x="377" y="194" width="4" height="3" fill="#348686" />
<rect x="378" y="195" width="2" height="1" fill="#ffffff" />
<rect x="383" y="186" width="1" height="9" fill="#348686" />
<rect x="381" y="187" width="4" height="7" fill="#348686" />
<rect x="382" y="188" width="2" height="5" fill="#ffffff" />
<rect x="387" y="183" width="1" height="7" fill="#b02a04" />
<rect x="385" y="188" width="4" height="1" fill="#b02a04" />
<rect x="391" y="176" width="1" height="14" fill="#348686" />
<rect x="389" y="176" width="4" height="12" fill="#348686" />
<rect x="390" y="177" width="2" height="10" fill="#ffffff" />
<rect x="395" y="173" width="1" height="8" fill="#b02a04" />
<rect x="394" y="176" width="3" height="2" fill="#b02a04" />
<rect x="398" y="173" width="1" height="9" fill="#348686" />
<rect x="396" y="176" width="4" height="5" fill="#348686" />
<rect x="397" y="177" width="2" height="3" fill="#ffffff" />
<rect x="402" y="171" width="1" height="5" fill="#348686" />
<rect x="400" y="173" width="4" height="3" fill="#348686" />
<rect x="401" y="174" width="2" height="1" fill="#ffffff" />
<rect x="406" y="170" width="1" height="6" fill="#b02a04" />
<rect x="404" y="172" width="4" height="2" fill="#b02a04" />
<rect x="410" y="170" width="1" height="9" fill="#348686" />
<rect x="408" y="171" width="4" height="7" fill="#348686" />
<rect x="409" y="172" width="2" height="5" fill="#ffffff" />
<rect x="414" y="171" width="1" height="7" fill="#b02a04" />
<rect x="413" y="175" width="3" height="2" fill="#b02a04" />
<rect x="417" y="178" width="1" height="6" fill="#b02a04" />
<rect x="415" y="179" width="4" height="3" fill="#b02a04" />
<rect x="416" y="180" width="2" height="1" fill="#ffffff" />
<rect x="421" y="181" width="1" height="9" fill="#b02a04" />
<rect x="419" y="183" width="4" height="7" fill="#b02a04" />
<rect x="425" y="174" width="1" height="12" fill="#348686" />
<rect x="423" y="176" width="4" height="8" fill="#348686" />
<rect x="424" y="177" width="2" height="6" fill="#ffffff" />
<rect x="429" y="171" width="1" height="3" fill="#348686" />
<rect x="427" y="173" width="4" height="1" fill="#348686" />
<rect x="433" y="170" width="1" height="6" fill="#348686" />
<rect x="432" y="171" width="3" height="3" fill="#348686" />
<rect x="433" y="172" width="1" height="1" fill="#ffffff" />
<rect x="436" y="166" width="1" height="6" fill="#348686" />
<rect x="434" y="171" width="4" height="1" fill="#348686" />
<rect x="440" y="169" width="1" height="7" fill="#b02a04" />
<rect x="438" y="174" width="4" height="2" fill="#b02a04" />
<rect x="444" y="177" width="1" height="6" fill="#b02a04" />
<rect x="442" y="179" width="4" height="2" fill="#b02a04" />
<rect x="448" y="177" width="1" height="8" fill="#348686" />
<rect x="446" y="178" width="4" height="5" fill="#348686" />
<rect x="447" y="179" width="2" height="3" fill="#ffffff" />
<rect x="452" y="169" width="1" height="10" fill="#348686" />
<rect x="451" y="177" width="3" height="2" fill="#348686" />
<rect x="455" y="176" width="1" height="12" fill="#b02a04" />
<rect x="453" y="177" width="4" height="10" fill="#b02a04" />
<rect x="459" y="183" width="1" height="5" fill="#348686" />
<rect x="457" y="185" width="4" height="1" fill="#348686" />
<rect x="463" y="179" width="1" height="9" fill="#348686" />
<rect x="461" y="184" width="4" height="3" fill="#348686" />
<rect x="462" y="185" width="2" height="1" fill="#ffffff" />
<rect x="467" y="179" width="1" height="9" fill="#348686" />
<rect x="465" y="181" width="4" height="1" fill="#348686" />
<rect x="471" y="178" width="1" height="19" fill="#b02a04" />
<rect x="470" y="180" width="3" height="8" fill="#b02a04" />
<rect x="474" y="184" width="1" height="7" fill="#b02a04" />
<rect x="472" y="184" width="4" height="6" fill="#b02a04" />
<rect x="478" y="188" width="1" height="5" fill="#b02a04" />
<rect x="476" y="190" width="4" height="3" fill="#b02a04" />
<rect x="482" y="192" width="1" height="8" fill="#b02a04" />
<rect x="480" y="194" width="4" height="3" fill="#b02a04" />
<rect x="486" y="191" width="1" height="13" fill="#b02a04" />
<rect x="484" y="202" width="4" height="1" fill="#b02a04" />
<rect x="490" y="198" width="1" height="6" fill="#b02a04" />
<rect x="489" y="200" width="3" height="3" fill="#b02a04" />
<rect x="493" y="202" width="1" height="8" fill="#b02a04" />
<rect x="491" y="203" width="4" height="1" fill="#b02a04" />
<rect x="497" y="204" width="1" height="5" fill="#b02a04" />
<rect x="495" y="205" width="4" height="2" fill="#b02a04" />
<rect x="501" y="200" width="1" height="8" fill="#348686" />
<rect x="499" y="205" width="4" height="3" fill="#348686" />
<rect x="500" y="206" width="2" height="1" fill="#ffffff" />
<rect x="505" y="203" width="1" height="15" fill="#b02a04" />
<rect x="503" y="206" width="4" height="11" fill="#b02a04" />
<rect x="509" y="214" width="1" height="9" fill="#348686" />
<rect x="508" y="216" width="3" height="1" fill="#348686" />
<rect x="513" y="215" width="1" height="9" fill="#b02a04" />
<rect x="512" y="216" width="3" height="5" fill="#b02a04" />
<rect x="516" y="214" width="1" height="8" fill="#348686" />
<rect x="514" y="216" width="4" height="5" fill="#348686" />
<rect x="515" y="217" width="2" height="3" fill="#ffffff" />
<rect x="520" y="204" width="1" height="16" fill="#b02a04" />
<rect x="518" y="211" width="4" height="9" fill="#b02a04" />
<rect x="524" y="207" width="1" height="10" fill="#348686" />
<rect x="522" y="209" width="4" height="8" fill="#348686" />
<rect x="523" y="210" width="2" height="6" fill="#ffffff" />
<rect x="528" y="206" width="1" height="12" fill="#b02a04" />
<rect x="527" y="210" width="3" height="1" fill="#b02a04" />
<rect x="532" y="209" width="1" height="12" fill="#b02a04" />
<rect x="531" y="213" width="3" height="1" fill="#b02a04" />
<rect x="535" y="213" width="1" height="7" fill="#348686" />
<rect x="533" y="213" width="4" height="1" fill="#348686" />
<rect x="539" y="213" width="1" height="10" fill="#b02a04" />
<rect x="537" y="213" width="4" height="1" fill="#b02a04" />
<rect x="543" y="204" width="1" height="12" fill="#348686" />
<rect x="541" y="209" width="4" height="6" fill="#348686" />
<rect x="542" y="210" width="2" height="4" fill="#ffffff" />
<rect x="547" y="205" width="1" height="10" fill="#b02a04" />
<rect x="545" y="210" width="4" height="3" fill="#b02a04" />
<rect x="546" y="211" width="2" height="1" fill="#ffffff" />
<rect x="551" y="205" width="1" height="9" fill="#348686" />
<rect x="550" y="208" width="3" height="3" fill="#348686" />
<rect x="551" y="209" width="1" height="1" fill="#ffffff" />
<rect x="554" y="208" width="1" height="8" fill="#b02a04" />
<rect x="552" y="211" width="4" height="5" fill="#b02a04" />
<rect x="558" y="212" width="1" height="6" fill="#348686" />
<rect x="556" y="213" width="4" height="1" fill="#348686" />
<rect x="562" y="215" width="1" height="9" fill="#b02a04" />
<rect x="560" y="216" width="4" height="7" fill="#b02a04" />
<rect x="566" y="225" width="1" height="10" fill="#b02a04" />
<rect x="564" y="228" width="4" height="5" fill="#b02a04" />
<rect x="570" y="223" width="1" height="10" fill="#348686" />
<rect x="569" y="227" width="3" height="5" fill="#348686" />
<rect x="570" y="228" width="1" height="3" fill="#ffffff" />
<rect x="573" y="219" width="1" height="9" fill="#348686" />
<rect x="571" y="220" width="4" height="5" fill="#348686" />
<rect x="572" y="221" width="2" height="3" fill="#ffffff" />
<rect x="577" y="213" width="1" height="7" fill="#348686" />
<rect x="575" y="215" width="4" height="4" fill="#348686" />
<rect x="576" y="216" width="2" height="2" fill="#ffffff" />
<rect x="581" y="212" width="1" height="8" fill="#b02a04" />
<rect x="579" y="216" width="4" height="1" fill="#b02a04" />
<rect x="585" y="215" width="1" height="8" fill="#b02a04" />
<rect x="583" y="218" width="4" height="2" fill="#b02a04" />
<rect x="589" y="212" width="1" height="11" fill="#348686" />
<rect x="588" y="213" width="3" height="9" fill="#348686" />
<rect x="589" y="214" width="1" height="7" fill="#ffffff" />
<rect x="592" y="213" width="1" height="5" fill="#b02a04" />
<rect x="590" y="214" width="4" height="1" fill="#b02a04" />
<rect x="596" y="204" width="1" height="16" fill="#348686" />
<rect x="594" y="205" width="4" height="15" fill="#348686" />
<rect x="595" y="206" width="2" height="13" fill="#ffffff" />
<rect x="600" y="204" width="1" height="8" fill="#b02a04" />
<rect x="598" y="207" width="4" height="2" fill="#b02a04" />
<rect x="604" y="196" width="1" height="15" fill="#348686" />
<rect x="602" y="200" width="4" height="10" fill="#348686" />
<rect x="603" y="201" width="2" height="8" fill="#ffffff" />
<rect x="608" y="188" width="1" height="10" fill="#348686" />
<rect x="607" y="189" width="3" height="9" fill="#348686" />
<rect x="611" y="193" width="1" height="5" fill="#348686" />
<rect x="609" y="195" width="4" height="1" fill="#348686" />
<rect x="615" y="190" width="1" height="20" fill="#b02a04" />
<rect x="613" y="197" width="4" height="4" fill="#b02a04" />
<rect x="619" y="208" width="1" height="10" fill="#b02a04" />
<rect x="617" y="208" width="4" height="5" fill="#b02a04" />
<rect x="623" y="210" width="1" height="5" fill="#348686" />
<rect x="621" y="212" width="4" height="3" fill="#348686" />
<rect x="622" y="213" width="2" height="1" fill="#ffffff" />
<rect x="627" y="205" width="1" height="11" fill="#b02a04" />
<rect x="626" y="215" width="3" height="1" fill="#b02a04" />
<rect x="630" y="211" width="1" height="10" fill="#348686" />
<rect x="628" y="215" width="4" height="1" fill="#348686" />
<rect x="634" y="213" width="1" height="8" fill="#b02a04" />
<rect x="632" y="214" width="4" height="1" fill="#b02a04" />
<rect x="638" y="205" width="1" height="11" fill="#348686" />
<rect x="636" y="208" width="4" height="7" fill="#348686" />
<rect x="637" y="209" width="2" height="5" fill="#ffffff" />
<rect x="642" y="201" width="1" height="6" fill="#348686" />
<rect x="640" y="203" width="4" height="3" fill="#348686" />
<rect x="641" y="204" width="2" height="1" fill="#ffffff" />
<rect x="646" y="197" width="1" height="7" fill="#348686" />
<rect x="645" y="199" width="3" height="3" fill="#348686" />
<rect x="646" y="200" width="1" height="1" fill="#ffffff" />
<rect x="650" y="196" width="1" height="5" fill="#b02a04" />
<rect x="649" y="200" width="3" height="1" fill="#b02a04" />
<rect x="653" y="201" width="1" height="6" fill="#b02a04" />
<rect x="651" y="201" width="4" height="5" fill="#b02a04" />
<rect x="657" y="196" width="1" height="14" fill="#348686" />
<rect x="655" y="199" width="4" height="10" fill="#348686" />
<rect x="656" y="200" width="2" height="8" fill="#ffffff" />
<rect x="661" y="202" width="1" height="6" fill="#b02a04" />
<rect x="659" y="202" width="4" height="1" fill="#b02a04" />
<rect x="665" y="198" width="1" height="10" fill="#348686" />
<rect x="664" y="202" width="3" height="1" fill="#348686" />
<rect x="669" y="199" width="1" height="7" fill="#b02a04" />
<rect x="668" y="199" width="3" height="5" fill="#b02a04" />
<rect x="672" y="202" width="1" height="6" fill="#b02a04" />
<rect x="670" y="205" width="4" height="1" fill="#b02a04" />
<rect x="676" y="204" width="1" height="6" fill="#b02a04" />
<rect x="674" y="205" width="4" height="4" fill="#b02a04" />
<rect x="680" y="209" width="1" height="7" fill="#b02a04" />
<rect x="678" y="211" width="4" height="3" fill="#b02a04" />
<rect x="684" y="208" width="1" height="7" fill="#348686" />
<rect x="683" y="211" width="3" height="3" fill="#348686" />
<rect x="684" y="212" width="1" height="1" fill="#ffffff" />
<rect x="688" y="211" width="1" height="4" fill="#b02a04" />
<rect x="687" y="212" width="3" height="3" fill="#b02a04" />
<rect x="691" y="208" width="1" height="11" fill="#b02a04" />
<rect x="689" y="212" width="4" height="7" fill="#b02a04" />
<rect x="695" y="219" width="1" height="2" fill="#b02a04" />
<rect x="693" y="219" width="4" height="2" fill="#b02a04" />
<rect x="699" y="211" width="1" height="26" fill="#348686" />
<rect x="697" y="216" width="4" height="20" fill="#348686" />
<rect x="698" y="217" width="2" height="18" fill="#ffffff" />
<rect x="703" y="205" width="1" height="11" fill="#348686" />
<rect x="701" y="210" width="4" height="4" fill="#348686" />
<rect x="702" y="211" width="2" height="2" fill="#ffffff" />
<rect x="707" y="208" width="1" height="6" fill="#348686" />
<rect x="706" y="209" width="3" height="4" fill="#348686" />
<rect x="707" y="210" width="1" height="2" fill="#ffffff" />
<rect x="710" y="376" width="1" height="28" fill="#b02a04" />
<rect x="708" y="387" width="4" height="7" fill="#b02a04" />
<rect x="714" y="377" width="1" height="14" fill="#348686" />
<rect x="712" y="383" width="4" height="6" fill="#348686" />
<rect x="718" y="371" width="1" height="10" fill="#348686" />
<rect x="716" y="371" width="4" height="1" fill="#348686" />
<rect x="722" y="372" width="1" height="14" fill="#b02a04" />
<rect x="720" y="372" width="4" height="14" fill="#b02a04" />
<rect x="726" y="391" width="1" height="28" fill="#b02a04" />
<rect x="725" y="391" width="3" height="28" fill="#b02a04" />
<rect x="729" y="427" width="1" height="21" fill="#b02a04" />
<rect x="727" y="429" width="4" height="3" fill="#b02a04" />
<rect x="733" y="429" width="1" height="15" fill="#b02a04" />
<rect x="731" y="436" width="4" height="7" fill="#b02a04" />
<rect x="737" y="429" width="1" height="26" fill="#348686" />
<rect x="735" y="438" width="4" height="7" fill="#348686" />
<rect x="736" y="439" width="2" height="5" fill="#ffffff" />
<rect x="741" y="432" width="1" height="13" fill="#348686" />
<rect x="739" y="435" width="4" height="6" fill="#348686" />
<rect x="740" y="436" width="2" height="4" fill="#ffffff" />
<rect x="745" y="428" width="1" height="25" fill="#b02a04" />
<rect x="744" y="428" width="3" height="22" fill="#b02a04" />
<rect x="748" y="440" width="1" height="8" fill="#348686" />
<rect x="746" y="446" width="4" height="1" fill="#348686" />
<rect x="752" y="436" width="1" height="14" fill="#348686" />
<rect x="750" y="442" width="4" height="8" fill="#348686" />
<rect x="751" y="443" width="2" height="6" fill="#ffffff" />
<rect x="756" y="431" width="1" height="15" fill="#348686" />
<rect x="754" y="434" width="4" height="11" fill="#348686" />
<rect x="755" y="435" width="2" height="9" fill="#ffffff" />
<rect x="760" y="427" width="1" height="4" fill="#348686" />
<rect x="758" y="428" width="4" height="3" fill="#348686" />
<rect x="759" y="429" width="2" height="1" fill="#ffffff" />
<rect x="764" y="422" width="1" height="8" fill="#348686" />
<rect x="763" y="424" width="3" height="5" fill="#348686" />
<rect x="764" y="425" width="1" height="3" fill="#ffffff" />
<rect x="767" y="422" width="1" height="14" fill="#b02a04" />
<rect x="765" y="426" width="4" height="1" fill="#b02a04" />
<rect x="771" y="427" width="1" height="14" fill="#b02a04" />
<rect x="769" y="430" width="4" height="10" fill="#b02a04" />
<rect x="775" y="439" width="1" height="7" fill="#b02a04" />
<rect x="773" y="440" width="4" height="1" fill="#b02a04" />
<rect x="779" y="438" width="1" height="8" fill="#348686" />
<rect x="777" y="438" width="4" height="4" fill="#348686" />
<rect x="778" y="439" width="2" height="2" fill="#ffffff" />
<rect x="783" y="426" width="1" height="15" fill="#348686" />
<rect x="782" y="427" width="3" height="13" fill="#348686" />
<rect x="783" y="428" width="1" height="11" fill="#ffffff" />
<rect x="786" y="419" width="1" height="10" fill="#348686" />
<rect x="784" y="421" width="4" height="8" fill="#348686" />
<rect x="785" y="422" width="2" height="6" fill="#ffffff" />
<rect x="790" y="413" width="1" height="18" fill="#b02a04" />
<rect x="788" y="422" width="4" height="4" fill="#b02a04" />
<rect x="794" y="454" width="1" height="38" fill="#b02a04" />
<rect x="792" y="464" width="4" height="22" fill="#b02a04" />
<rect x="798" y="481" width="1" height="46" fill="#b02a04" />
<rect x="796" y="487" width="4" height="31" fill="#b02a04" />
<rect x="802" y="495" width="1" height="20" fill="#348686" />
<rect x="801" y="495" width="3" height="6" fill="#348686" />
<rect x="802" y="496" width="1" height="4" fill="#ffffff" />
<rect x="806" y="487" width="1" height="29" fill="#b02a04" />
<rect x="805" y="494" width="3" height="20" fill="#b02a04" />
<rect x="809" y="516" width="1" height="20" fill="#b02a04" />
<rect x="807" y="521" width="4" height="11" fill="#b02a04" />
<rect x="813" y="524" width="1" height="19" fill="#348686" />
<rect x="811" y="524" width="4" height="12" fill="#348686" />
<rect x="812" y="525" width="2" height="10" fill="#ffffff" />
<rect x="817" y="533" width="1" height="10" fill="#b02a04" />
<rect x="815" y="537" width="4" height="4" fill="#b02a04" />
<rect x="816" y="538" width="2" height="2" fill="#ffffff" />
<rect x="821" y="517" width="1" height="30" fill="#348686" />
<rect x="820" y="527" width="3" height="19" fill="#348686" />
<rect x="821" y="528" width="1" height="17" fill="#ffffff" />
<rect x="825" y="523" width="1" height="10" fill="#b02a04" />
<rect x="824" y="524" width="3" height="9" fill="#b02a04" />
<rect x="828" y="521" width="1" height="12" fill="#348686" />
<rect x="826" y="526" width="4" height="6" fill="#348686" />
<rect x="827" y="527" width="2" height="4" fill="#ffffff" />
<rect x="832" y="507" width="1" height="20" fill="#348686" />
<rect x="830" y="512" width="4" height="14" fill="#348686" />
<rect x="831" y="513" width="2" height="12" fill="#ffffff" />
<rect x="836" y="498" width="1" height="12" fill="#348686" />
<rect x="834" y="504" width="4" height="5" fill="#348686" />
<rect x="835" y="505" width="2" height="3" fill="#ffffff" />
<rect x="840" y="497" width="1" height="10" fill="#b02a04" />
<rect x="838" y="500" width="4" height="6" fill="#b02a04" />
<rect x="844" y="503" width="1" height="13" fill="#348686" />
<rect x="843" y="506" width="3" height="3" fill="#348686" />
<rect x="844" y="507" width="1" height="1" fill="#ffffff" />
<rect x="847" y="505" width="1" height="9" fill="#b02a04" />
<rect x="845" y="510" width="4" height="1" fill="#b02a04" />
<rect x="851" y="505" width="1" height="9" fill="#348686" />
<rect x="849" y="511" width="4" height="1" fill="#348686" />
<rect x="855" y="509" width="1" height="5" fill="#348686" />
<rect x="853" y="511" width="4" height="1" fill="#348686" />
<rect x="859" y="505" width="1" height="7" fill="#348686" />
<rect x="857" y="508" width="4" height="1" fill="#348686" />
<rect x="863" y="498" width="1" height="9" fill="#348686" />
<rect x="862" y="499" width="3" height="7" fill="#348686" />
<rect x="863" y="500" width="1" height="5" fill="#ffffff" />
<rect x="866" y="490" width="1" height="10" fill="#b02a04" />
<rect x="864" y="494" width="4" height="6" fill="#b02a04" />
<rect x="870" y="490" width="1" height="11" fill="#348686" />
<rect x="868" y="492" width="4" height="8" fill="#348686" />
<rect x="869" y="493" width="2" height="6" fill="#ffffff" />
<rect x="874" y="487" width="1" height="12" fill="#348686" />
<rect x="872" y="487" width="4" height="3" fill="#348686" />
<rect x="878" y="470" width="1" height="23" fill="#348686" />
<rect x="876" y="472" width="4" height="18" fill="#348686" />
<rect x="877" y="473" width="2" height="16" fill="#ffffff" />
<rect x="882" y="465" width="1" height="10" fill="#348686" />
<rect x="881" y="471" width="3" height="3" fill="#348686" />
<rect x="882" y="472" width="1" height="1" fill="#ffffff" />
<rect x="885" y="471" width="1" height="11" fill="#b02a04" />
<rect x="883" y="472" width="4" height="9" fill="#b02a04" />
<rect x="889" y="479" width="1" height="8" fill="#b02a04" />
<rect x="887" y="481" width="4" height="5" fill="#b02a04" />
<rect x="893" y="470" width="1" height="10" fill="#348686" />
<rect x="891" y="470" width="4" height="9" fill="#348686" />
<rect x="892" y="471" width="2" height="7" fill="#ffffff" />
<rect x="897" y="466" width="1" height="7" fill="#348686" />
<rect x="895" y="470" width="4" height="1" fill="#348686" />
<rect x="901" y="458" width="1" height="18" fill="#348686" />
<rect x="900" y="463" width="3" height="5" fill="#348686" />
<rect x="904" y="462" width="1" height="7" fill="#348686" />
<rect x="902" y="463" width="4" height="6" fill="#348686" />
<rect x="903" y="464" width="2" height="4" fill="#ffffff" />
<rect x="908" y="450" width="1" height="13" fill="#348686" />
<rect x="906" y="451" width="4" height="12" fill="#348686" />
<rect x="907" y="452" width="2" height="10" fill="#ffffff" />
<rect x="912" y="433" width="1" height="12" fill="#348686" />
<rect x="910" y="434" width="4" height="11" fill="#348686" />
<rect x="911" y="435" width="2" height="9" fill="#ffffff" />
<rect x="916" y="407" width="1" height="26" fill="#348686" />
<rect x="914" y="408" width="4" height="24" fill="#348686" />
<rect x="915" y="409" width="2" height="22" fill="#ffffff" />
<rect x="920" y="408" width="1" height="28" fill="#b02a04" />
<rect x="919" y="412" width="3" height="15" fill="#b02a04" />
<rect x="920" y="413" width="1" height="13" fill="#ffffff" />
<rect x="923" y="411" width="1" height="8" fill="#b02a04" />
<rect x="921" y="415" width="4" height="3" fill="#b02a04" />
<rect x="922" y="416" width="2" height="1" fill="#ffffff" />
<rect x="927" y="405" width="1" height="13" fill="#348686" />
<rect x="925" y="405" width="4" height="12" fill="#348686" />
<rect x="926" y="406" width="2" height="10" fill="#ffffff" />
<rect x="931" y="398" width="1" height="8" fill="#348686" />
<rect x="929" y="400" width="4" height="5" fill="#348686" />
<rect x="930" y="401" width="2" height="3" fill="#ffffff" />
<rect x="935" y="392" width="1" height="8" fill="#348686" />
<rect x="933" y="397" width="4" height="1" fill="#348686" />
<rect x="939" y="394" width="1" height="22" fill="#b02a04" />
<rect x="938" y="399" width="3" height="5" fill="#b02a04" />
<rect x="942" y="400" width="1" height="6" fill="#348686" />
<rect x="940" y="401" width="4" height="4" fill="#348686" />
<rect x="941" y="402" width="2" height="2" fill="#ffffff" />
<rect x="946" y="398" width="1" height="7" fill="#348686" />
<rect x="944" y="399" width="4" height="1" fill="#348686" />
<rect x="950" y="398" width="1" height="4" fill="#b02a04" />
<rect x="948" y="399" width="4" height="1" fill="#b02a04" />
<rect x="954" y="397" width="1" height="5" fill="#b02a04" />
<rect x="952" y="400" width="4" height="1" fill="#b02a04" />
<rect x="958" y="400" width="1" height="24" fill="#b02a04" />
<rect x="957" y="405" width="3" height="13" fill="#b02a04" />
<rect x="962" y="412" width="1" height="10" fill="#b02a04" />
<rect x="961" y="414" width="3" height="7" fill="#b02a04" />
<rect x="965" y="411" width="1" height="11" fill="#348686" />
<rect x="963" y="418" width="4" height="3" fill="#348686" />
<rect x="964" y="419" width="2" height="1" fill="#ffffff" />
<rect x="969" y="409" width="1" height="7" fill="#348686" />
<rect x="967" y="413" width="4" height="1" fill="#348686" />
<rect x="973" y="412" width="1" height="8" fill="#b02a04" />
<rect x="971" y="414" width="4" height="6" fill="#b02a04" />
<rect x="977" y="414" width="1" height="15" fill="#348686" />
<rect x="976" y="415" width="3" height="6" fill="#348686" />
<rect x="977" y="416" width="1" height="4" fill="#ffffff" />
<rect x="981" y="414" width="1" height="5" fill="#b02a04" />
<rect x="980" y="415" width="3" height="4" fill="#b02a04" />
<rect x="984" y="417" width="1" height="7" fill="#b02a04" />
<rect x="982" y="418" width="4" height="4" fill="#b02a04" />
<rect x="988" y="422" width="1" height="10" fill="#b02a04" />
<rect x="986" y="423" width="4" height="7" fill="#b02a04" />
<rect x="992" y="425" width="1" height="11" fill="#348686" />
<rect x="990" y="426" width="4" height="9" fill="#348686" />
<rect x="991" y="427" width="2" height="7" fill="#ffffff" />
<rect x="996" y="416" width="1" height="13" fill="#348686" />
<rect x="994" y="418" width="4" height="8" fill="#348686" />
<rect x="995" y="419" width="2" height="6" fill="#ffffff" />
<rect x="1000" y="414" width="1" height="9" fill="#b02a04" />
<rect x="999" y="418" width="3" height="4" fill="#b02a04" />
<rect x="1003" y="419" width="1" height="10" fill="#b02a04" />
<rect x="1001" y="420" width="4" height="9" fill="#b02a04" />
<rect x="1007" y="428" width="1" height="10" fill="#b02a04" />
<rect x="1005" y="428" width="4" height="7" fill="#b02a04" />
<rect x="1011" y="430" width="1" height="16" fill="#b02a04" />
<rect x="1009" y="433" width="4" height="13" fill="#b02a04" />
<rect x="1015" y="419" width="1" height="24" fill="#348686" />
<rect x="1013" y="424" width="4" height="14" fill="#348686" />
<rect x="1014" y="425" width="2" height="12" fill="#ffffff" />
</g>
<path d="M1095.5 0.5 L1102.5 7 M1102.5 0.5 L1095.5 7" stroke="#000" stroke-width="1.6" fill="none"/>
<path d="M1095.5 114.5 L1102.5 121 M1102.5 114.5 L1095.5 121" stroke="#000" stroke-width="1.6" fill="none"/>
<polyline points="42.8,48.4 45.6,47.5 48.8,49.4 52.5,52.5 56.1,40.6 58.8,38.7 60.7,38.1 63.8,33.7 67.0,32.4 71.4,40.6 75.8,35.6 79.5,33.1 83.3,31.2 87.0,33.3 90.8,33.7 94.2,41.2 98.0,39.1 102.1,37.4 105.5,41.2 109.6,36.8 113.4,36.6 116.8,35.3 120.3,37.4 124.3,46.2 128.4,43.7 132.2,44.6 136.3,51.9 140.4,55.3 143.9,50.4 147.6,45.6 151.7,54.6 155.4,57.1 159.2,51.2 162.7,46.9 166.7,51.2 170.7,55.6 172.6,60.7 174.5,66.3 178.3,73.8 181.4,72.2 185.2,74.2 189.3,70.4 193.3,75.7 197.5,72.6 200.2,76.7 204.4,78.8 208.4,73.2 212.1,79.5 215.9,70.7 220.3,65.0 223.2,60.7 227.2,64.7 231.3,63.2 235.1,56.9 239.5,53.1 243.5,51.2 246.6,52.5 250.4,56.3 254.2,58.4 258.3,55.4 261.4,58.4 265.1,49.4 269.2,35.6 273.0,35.3 277.1,36.2 280.1,45.0 284.0,43.1 288.3,40.6 292.2,40.3 296.4,41.8 302.8,35.3 306.9,41.2 311.3,41.2 315.4,34.3 318.6,33.3 322.3,34.1 326.3,31.2 330.1,38.7 334.5,51.9 337.0,55.4 341.1,50.4 345.2,58.4 349.2,54.4 353.3,51.9 356.5,49.4 360.2,54.4 364.0,53.1 368.4,52.1 372.4,56.3 376.3,49.4 379.7,47.5 383.0,42.5 387.4,44.3 391.0,33.7 395.3,36.6 398.1,35.6 402.2,33.3 406.4,34.9 410.1,32.4 414.4,40.6 417.3,43.1 421.1,54.4 425.1,43.1 429.0,40.8 433.3,39.3 436.6,39.3 440.2,44.3 444.2,50.4 448.1,47.5 452.4,46.2 455.0,57.5 459.3,55.6 463.1,53.4 467.5,50.9 471.5,57.5 474.4,59.4 478.2,61.9 482.2,65.4 486.2,69.2 490.3,70.7 493.5,72.2 497.2,73.4 501.0,70.4 505.0,79.5 509.5,77.0 513.3,80.1 516.3,73.2 520.2,75.1 524.2,61.3 528.3,64.4 532.4,65.4 535.5,65.4 539.5,65.4 543.3,58.4 547.2,59.1 551.6,56.6 553.9,65.0 558.5,64.4 562.6,70.1 566.4,78.2 570.4,69.4 573.3,61.3 577.7,55.0 581.2,57.1 585.2,60.4 589.3,53.8 592.5,54.4 595.9,44.3 600.3,49.4 604.0,42.5 606.5,40.8 610.9,39.1 615.3,44.3 619.1,56.3 623.2,55.4 627.2,57.1 631.6,57.5 634.5,58.8 637.9,51.9 641.9,46.2 646.7,41.2 650.4,43.1 653.3,49.4 657.3,43.7 661.5,48.4 665.2,46.6 669.3,49.1 672.4,51.9 675.9,54.4 680.3,59.1 684.3,57.5 688.1,58.8 692.0,65.0 695.1,67.2 699.2,59.4 703.3,51.9 707.1,50.4 710.6,98.0 714.6,96.4 718.3,89.3 722.1,91.0 725.9,93.0 729.6,94.3 733.1,95.5 737.2,92.6 740.9,91.4 744.7,92.6 748.5,91.4 752.2,89.3 756.2,85.7 760.4,83.0 764.1,81.4 767.9,81.4 771.7,83.0 774.8,84.5 779.2,82.2 782.3,78.2 784.8,73.8 787.3,72.2 790.5,73.8 792.4,77.0 794.9,85.1 798.4,89.3 802.4,79.5 806.2,81.4 809.3,84.5 813.1,81.4 817.2,83.2 821.2,79.2 825.1,80.5 828.9,75.5 833.3,69.8 837.1,68.2 840.6,69.2 844.0,68.2 847.7,70.2 852.1,70.5 855.9,70.5 859.6,68.9 863.4,63.6 866.5,62.9 870.3,58.5 874.1,56.9 877.8,47.9 882.2,47.6 886.0,53.9 889.7,56.4 893.5,47.6 897.3,46.4 901.3,46.4 905.4,41.9 909.8,35.3 913.6,27.8 916.7,23.0 920.5,25.5 923.4,27.2 926.8,25.0 930.5,22.5 935.5,22.5 939.3,28.1 951.9,26.8 954.4,27.8 958.2,43.1 962.3,45.4 965.7,42.2 969.5,40.3 973.2,47.6 977.6,42.6 981.1,46.6 984.9,48.9 988.5,55.4 996.5,46.4 1000.2,50.4 1004.0,54.8 1007.7,59.8 1011.5,65.4 1015.3,51.4" fill="none" stroke="#b20c2a" stroke-width="1.15" stroke-linejoin="round"/>
<ellipse cx="699" cy="302.8" rx="52" ry="63.5" fill="none" stroke="#0e0e8e" stroke-width="1"/>
<line x1="752" y1="417.5" x2="1018.6" y2="384" stroke="#0e0e8e" stroke-width="1"/>
<text filter="url(#idf)" x="655.5" y="309.5" font-size="12" fill="#0e0e8e" text-anchor="start" font-weight="normal" textLength="80.5" lengthAdjust="spacingAndGlyphs">Gap por fechar</text>
<text filter="url(#idf)" x="591.4" y="495" font-size="12" fill="#0e0e8e" text-anchor="start" font-weight="normal" textLength="116.3" lengthAdjust="spacingAndGlyphs">Head and Shoulders:</text>
<text filter="url(#idf)" x="591.4" y="510" font-size="12" fill="#0e0e8e" text-anchor="start" font-weight="normal" textLength="150.6" lengthAdjust="spacingAndGlyphs">Possível Figura de Inversão</text>
<text filter="url(#idf)" x="30.6" y="143.55" font-size="12" fill="#000" text-anchor="end" font-weight="normal">50</text>
<text filter="url(#idf)" x="1105.6" y="143.55" font-size="12" fill="#000" text-anchor="end" font-weight="normal">50</text>
<text filter="url(#idf)" x="30.6" y="206.45" font-size="12" fill="#000" text-anchor="end" font-weight="normal">45</text>
<text filter="url(#idf)" x="1105.6" y="206.45" font-size="12" fill="#000" text-anchor="end" font-weight="normal">45</text>
<text filter="url(#idf)" x="30.6" y="276.767" font-size="12" fill="#000" text-anchor="end" font-weight="normal">40</text>
<text filter="url(#idf)" x="1105.6" y="276.767" font-size="12" fill="#000" text-anchor="end" font-weight="normal">40</text>
<text filter="url(#idf)" x="30.6" y="356.485" font-size="12" fill="#000" text-anchor="end" font-weight="normal">35</text>
<text filter="url(#idf)" x="1105.6" y="356.485" font-size="12" fill="#000" text-anchor="end" font-weight="normal">35</text>
<text filter="url(#idf)" x="30.6" y="448.513" font-size="12" fill="#000" text-anchor="end" font-weight="normal">30</text>
<text filter="url(#idf)" x="1105.6" y="448.513" font-size="12" fill="#000" text-anchor="end" font-weight="normal">30</text>
<text filter="url(#idf)" x="30.6" y="557.359" font-size="12" fill="#000" text-anchor="end" font-weight="normal">25</text>
<text filter="url(#idf)" x="1105.6" y="557.359" font-size="12" fill="#000" text-anchor="end" font-weight="normal">25</text>
<text filter="url(#idf)" x="30.6" y="57.5" font-size="12" fill="#000" text-anchor="end" font-weight="normal">50</text>
<text filter="url(#idf)" x="1105.6" y="57.5" font-size="12" fill="#000" text-anchor="end" font-weight="normal">50</text>
<text filter="url(#idf)" x="30.4" y="622.5" font-size="12" fill="#000" text-anchor="end" font-weight="normal">0000</text>
<text filter="url(#idf)" x="30.4" y="647.8" font-size="12" fill="#000" text-anchor="end" font-weight="normal">5000</text>
<text filter="url(#idf)" x="1105.6" y="622.5" font-size="12" fill="#000" text-anchor="end" font-weight="normal">10000</text>
<text filter="url(#idf)" x="1105.6" y="647.8" font-size="12" fill="#000" text-anchor="end" font-weight="normal">5000</text>
<g shape-rendering="crispEdges">
<rect x="-1" y="654" width="29" height="13" fill="#000" />
<rect x="-1" y="655" width="28" height="12" fill="#fff" />
<rect x="1061" y="654" width="34" height="13" fill="#000" />
<rect x="1062" y="655" width="32" height="12" fill="#fff" />
</g>
<text filter="url(#idf)" x="1.9" y="664.1" font-size="10" fill="#000" text-anchor="start" font-weight="normal" textLength="23.3" lengthAdjust="spacingAndGlyphs">10000</text>
<text filter="url(#idf)" x="1063" y="664.1" font-size="10" fill="#000" text-anchor="start" font-weight="normal" textLength="29.3" lengthAdjust="spacingAndGlyphs">x10000</text>
<clipPath id="c"><rect x="42" y="668" width="1017" height="21"/></clipPath><g clip-path="url(#c)">
<text filter="url(#idf)" x="77.5" y="683.6" font-size="12" fill="#000" text-anchor="start" font-weight="normal">February</text>
<text filter="url(#idf)" x="149.5" y="683.6" font-size="12" fill="#000" text-anchor="start" font-weight="normal">March</text>
<text filter="url(#idf)" x="237.5" y="683.6" font-size="12" fill="#000" text-anchor="start" font-weight="normal">April</text>
<text filter="url(#idf)" x="317.5" y="683.6" font-size="12" fill="#000" text-anchor="start" font-weight="normal">May</text>
<text filter="url(#idf)" x="393.5" y="683.6" font-size="12" fill="#000" text-anchor="start" font-weight="normal">June</text>
<text filter="url(#idf)" x="473.5" y="683.6" font-size="12" fill="#000" text-anchor="start" font-weight="normal">July</text>
<text filter="url(#idf)" x="553.5" y="683.6" font-size="12" fill="#000" text-anchor="start" font-weight="normal">August</text>
<text filter="url(#idf)" x="636.5" y="683.6" font-size="12" fill="#000" text-anchor="start" font-weight="normal">September</text>
<text filter="url(#idf)" x="716.5" y="683.6" font-size="12" fill="#000" text-anchor="start" font-weight="normal">October</text>
<text filter="url(#idf)" x="796.5" y="683.6" font-size="12" fill="#000" text-anchor="start" font-weight="normal">November</text>
<text filter="url(#idf)" x="876.5" y="683.6" font-size="12" fill="#000" text-anchor="start" font-weight="normal">December</text>
<text filter="url(#idf)" x="960.5" y="683.6" font-size="12" fill="#000" text-anchor="start" font-weight="normal">2005</text>
<text filter="url(#idf)" x="1036.5" y="683.6" font-size="12" fill="#000" text-anchor="start" font-weight="normal">February</text>
</g>
<text filter="url(#idf)" x="10.8" y="7.7" font-size="11" fill="#f0f4ff" text-anchor="start" font-weight="bold" textLength="135.5" lengthAdjust="spacingAndGlyphs">Relative Strength Index</text>
<text filter="url(#idf)" x="149.8" y="7.7" font-size="11" fill="#e0001c" text-anchor="start" font-weight="bold" textLength="54.5" lengthAdjust="spacingAndGlyphs">(51.6605)</text>
<text filter="url(#idf)" x="10.6" y="121.7" font-size="11" fill="#f0f4ff" text-anchor="start" font-weight="bold" textLength="24.6" lengthAdjust="spacingAndGlyphs">MRK</text>
<text filter="url(#idf)" x="39.2" y="121.7" font-size="11" fill="#3a8f94" text-anchor="start" font-weight="bold" textLength="266.5" lengthAdjust="spacingAndGlyphs">(30.2500, 31.2200, 30.0000, 30.9500, +1.10000)</text>
</svg>
</body></html>
